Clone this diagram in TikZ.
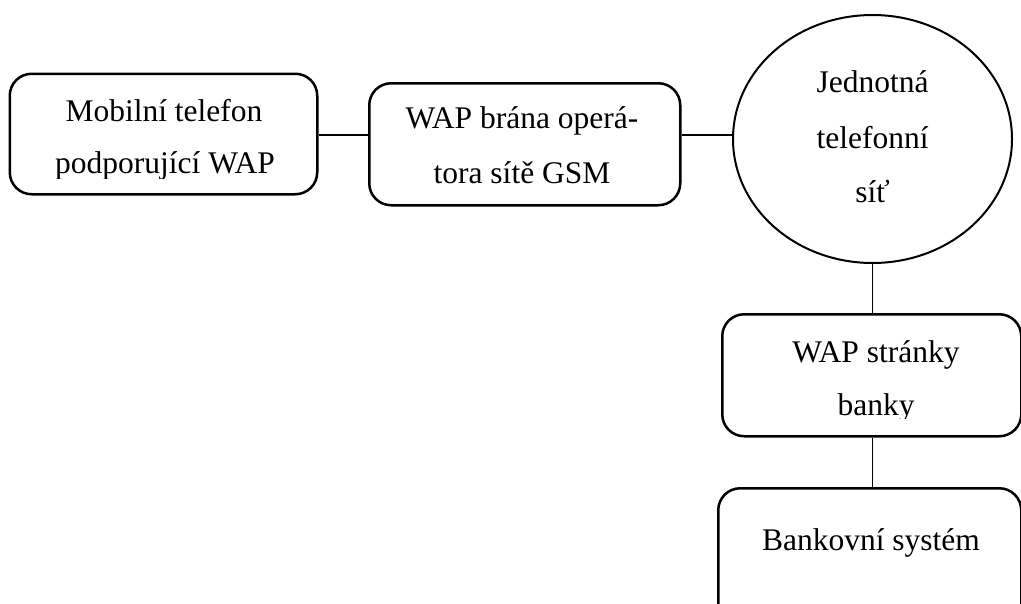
\documentclass[tikz,border=0pt]{standalone}
\usepackage{fontspec}
\setmainfont{Liberation Serif}
\usetikzlibrary{shapes.geometric}
\begin{document}
\begin{tikzpicture}[x=1pt,y=-1pt,
  box/.style={draw,rounded corners=22pt,line width=2.5pt,inner sep=0pt,anchor=north west},
  oval/.style={draw,ellipse,line width=2pt,inner sep=0pt},
  txt/.style={anchor=base,inner sep=0pt,font=\fontsize{31.5}{38}\selectfont},
  link/.style={line width=1.3pt}]
\useasboundingbox (0,0) rectangle (1021,603);
\clip (0,0) rectangle (1021,603);
\node[box,minimum width=307.5pt,minimum height=120.5pt] (b1) at (8.5,72.5) {};
\node[box,minimum width=311pt,minimum height=122pt] (b2) at (368,82) {};
\node[oval,minimum width=279pt,minimum height=248pt] (c) at (872.5,139) {};
\node[box,minimum width=299pt,minimum height=122pt] (b4) at (721,313) {};
\node[box,minimum width=303pt,minimum height=160pt] (b5) at (717,487) {};
\draw[link] (b1.east |- 0,135) -- (b2.west |- 0,135);
\draw[link] (b2.east |- 0,135) -- (c.west |- 0,135);
\draw[link] (c.south) -- (c.south |- b4.north);
\draw[link] (c.south |- b4.south) -- (c.south |- b5.north);
\node[txt] (t1a) at (164,121.7) {Mobilní telefon};
\begin{scope}
\clip (0,0) rectangle (1021,178);
\node[txt] (t1b) at (165,173) {podporující WAP};
\end{scope}
\node[txt] (t2a) at (522,128) {WAP brána operá-};
\node[txt] (t2b) at (522,183) {tora sítě GSM};
\node[txt] (t3a) at (872.5,92.5) {Jednotná};
\node[txt] (t3b) at (872.5,148) {telefonní};
\node[txt] (t3c) at (872.5,202) {síť};
\node[txt] (t4a) at (876,362) {WAP stránky};
\begin{scope}
\clip (0,0) rectangle (1021,418);
\node[txt] (t4b) at (876,415) {banky};
\end{scope}
\node[txt] (t5) at (871,550) {Bankovní systém};
\end{tikzpicture}
\end{document}
